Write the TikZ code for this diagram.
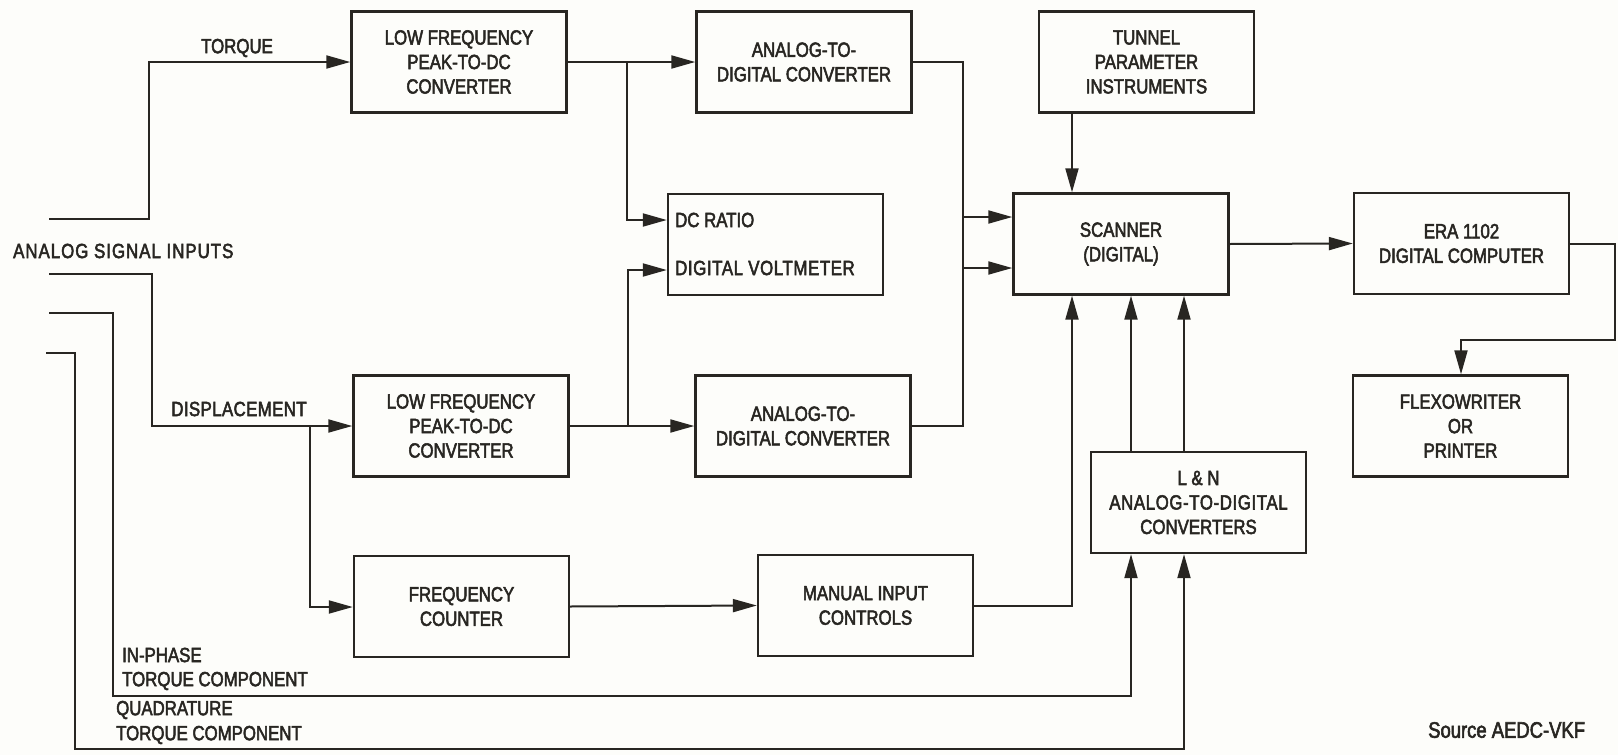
\documentclass[tikz,border=0pt]{standalone}
\usepackage{fontspec}
\setmainfont{Liberation Sans}[FakeStretch=0.82, FakeBold=2.5]
\usetikzlibrary{arrows.meta}
\definecolor{ink}{RGB}{40,38,34}
\definecolor{paper}{RGB}{253,253,250}
\tikzset{
  blk/.style={draw=ink, line width=2.4pt, minimum width=215pt, minimum height=101pt, inner sep=0pt,
    align=center, text=ink, font=\fontsize{20.5}{24.5}\selectfont},
  lbl/.style={text=ink, inner sep=0pt, font=\fontsize{20.5}{24.5}\selectfont},
  wire/.style={draw=ink, line width=2pt},
  arr/.style={wire, -{Triangle[length=24pt,width=13pt]}},
}
\begin{document}
\begin{tikzpicture}[x=1pt,y=-1pt]
\fill[paper] (0,0) rectangle (1618,755);
\useasboundingbox (0,0) rectangle (1618,755);

% boxes
\node[blk] (lf1) at (459,62) {LOW FREQUENCY\\PEAK-TO-DC\\CONVERTER};
\node[blk] (atd1) at (804,62) {ANALOG-TO-\\DIGITAL CONVERTER};
\node[blk] (tun) at (1146.5,62) {TUNNEL\\PARAMETER\\INSTRUMENTS};
\node[blk] (dc) at (775.5,244.5) {};
\node[blk] (scn) at (1121,244) {SCANNER\\(DIGITAL)};
\node[blk] (era) at (1461.5,243.5) {ERA 1102\\DIGITAL COMPUTER};
\node[blk] (lf2) at (461,426) {LOW FREQUENCY\\PEAK-TO-DC\\CONVERTER};
\node[blk] (atd2) at (803,426) {ANALOG-TO-\\DIGITAL CONVERTER};
\node[blk] (ln) at (1198.5,502.5) {L \& N\\\addfontfeature{LetterSpace=3}ANALOG-TO-DIGITAL\\CONVERTERS};
\node[blk] (flex) at (1460.5,426) {FLEXOWRITER\\OR\\PRINTER};
\node[blk] (fc) at (461.5,606.5) {FREQUENCY\\COUNTER};
\node[blk] (mic) at (865.5,605.5) {MANUAL INPUT\\CONTROLS};

% labels
\node[lbl, anchor=west] (dcr) at (675,220) {DC RATIO};
\node[lbl, anchor=west] (dcv) at (675,268) {\addfontfeature{LetterSpace=3}DIGITAL VOLTMETER};
\node[lbl] (ltorque) at (237,48) {TORQUE};
\node[lbl] (ldisp) at (239,409) {\addfontfeature{LetterSpace=2}DISPLACEMENT};
\node[lbl, anchor=west] (lasi) at (13,251) {\addfontfeature{LetterSpace=5}ANALOG SIGNAL INPUTS};
\node[lbl, anchor=west] (lip1) at (122,655) {IN-PHASE};
\node[lbl, anchor=west] (lip2) at (122,681) {TORQUE COMPONENT};
\node[lbl, anchor=west] (lq1) at (116,710) {QUADRATURE};
\node[lbl, anchor=west] (lq2) at (116,735) {TORQUE COMPONENT};
\node[lbl, anchor=west, font=\fontsize{22.5}{26}\selectfont] (src) at (1428,730) {Source AEDC-VKF};

% free ends / junctions
\coordinate (in1) at (49,219);
\coordinate (in2) at (49,274);
\coordinate (in3) at (49,313);
\coordinate (in4) at (46,353);
\coordinate (xa) at (1072,0);
\coordinate (xb) at (1131,0);
\coordinate (xc) at (1184,0);
\coordinate (xf) at (1461,0);

% inputs
\draw[arr] (in1) -- (149,219) -- (149,62) -- (lf1.west);
\draw[arr] (in2) -- (152,274) -- (152,426) -- (lf2.west);
\draw[arr] (310,426) -- (310,607) -- (fc.west |- 0,607);
\draw[arr] (in3) -- (113,313) -- (113,696) -- (1131,696) -- (ln.south -| xb);
\draw[arr] (in4) -- (75,353) -- (75,749) -- (1184,749) -- (ln.south -| xc);

% converters
\draw[arr] (lf1.east) -- (atd1.west);
\draw[arr] (627,62) -- (627,220) -- (dc.west |- 0,220);
\draw[arr] (lf2.east) -- (atd2.west);
\draw[arr] (628,426) -- (628,270) -- (dc.west |- 0,270);
\draw[wire] (atd1.east) -- (963,62) -- (963,426) -- (atd2.east);
\draw[arr] (963,217) -- (scn.west |- 0,217);
\draw[arr] (963,268) -- (scn.west |- 0,268);

% scanner inputs
\draw[arr] (tun.south -| xa) -- (scn.north -| xa);
\draw[arr] (fc.east) -- (mic.west);
\draw[arr] (mic.east) -- (1072,605.5) -- (scn.south -| xa);
\draw[arr] (ln.north -| xb) -- (scn.south -| xb);
\draw[arr] (ln.north -| xc) -- (scn.south -| xc);

% outputs
\draw[arr] (scn.east) -- (era.west);
\draw[arr] (era.east) -- (1615,243.5) -- (1615,340) -- (1461,340) -- (flex.north -| xf);
\end{tikzpicture}
\end{document}
